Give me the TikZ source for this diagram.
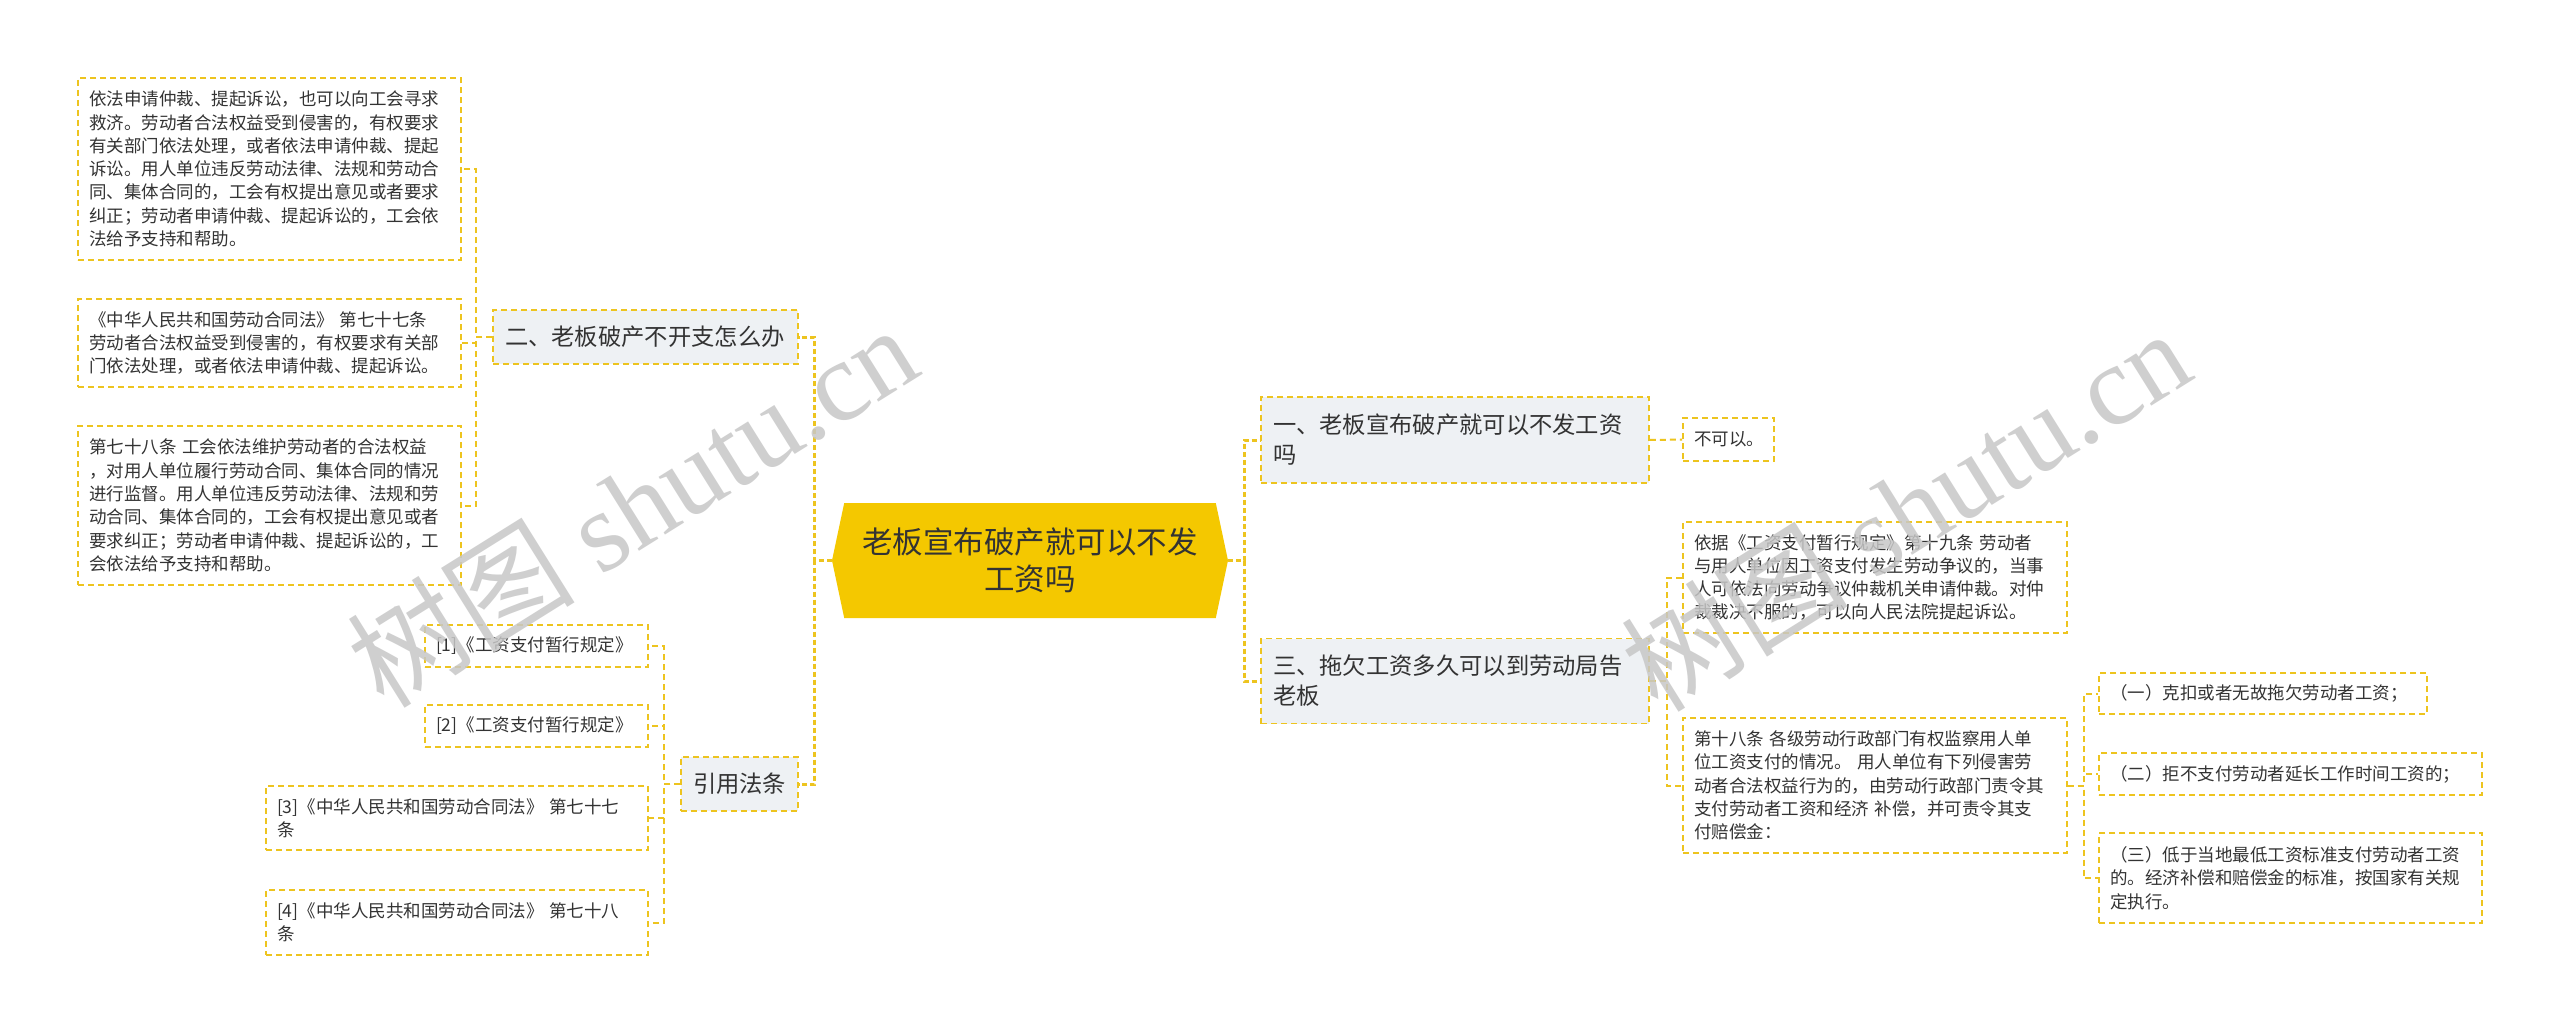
\documentclass[tikz,border=0pt]{standalone}
\usepackage{fontspec}
\setmainfont{Noto Sans CJK SC}
\newfontfamily\stampserif{Liberation Serif}
\usetikzlibrary{shapes.symbols}

\definecolor{hubyellow}{HTML}{F4C800}
\definecolor{dashyellow}{HTML}{EDC41F}
\definecolor{branchgray}{HTML}{EEF1F4}
\definecolor{inkgray}{HTML}{333333}

\newcommand{\leaffont}{\fontsize{17.5}{23.3}\selectfont}
\newcommand{\branchfont}{\fontsize{23.3}{30}\selectfont}
\newcommand{\hubfont}{\fontsize{30.5}{37}\selectfont}

\begin{document}
\begin{tikzpicture}[x=1pt,y=-1pt,
    box/.style={draw=dashyellow, line width=1.8pt, dash pattern=on 6pt off 4pt,
      text=inkgray, inner xsep=11pt, inner ysep=0pt, align=left},
    leaf/.style={box, fill=white, font=\leaffont},
    branch/.style={box, fill=branchgray, font=\branchfont, inner xsep=12pt},
    link/.style={draw=dashyellow, line width=2pt, dash pattern=on 6pt off 4pt},
    trunk/.style={draw=dashyellow, line width=3pt, dash pattern=on 5pt off 3pt},
    hub/.style={signal, signal to=west and east, signal pointer angle=156,
      fill=hubyellow, text=inkgray, font=\hubfont, align=center, inner sep=0pt},
    stamp/.style={text=black!22, text opacity=0.85, font=\fontsize{114}{114}\selectfont,
      inner sep=0pt}]
  \useasboundingbox[fill=white] (0,0) rectangle (2560,1033);

  % centre
  \node[hub, minimum width=396, minimum height=115] (hub) at (1030,560.5)
    {老板宣布破产就可以不发\\工资吗};

  % left side
  \node[branch, text width=281, minimum height=54] (qTwo) at (645.5,337) {二、老板破产不开支怎么办};
  \node[branch, text width=93, minimum height=54] (cite) at (739.5,784) {引用法条};

  \node[leaf, text width=361, minimum height=182] (lawA) at (269.5,169) {依法申请仲裁、提起诉讼，也可以向工会寻求\\救济。劳动者合法权益受到侵害的，有权要求\\有关部门依法处理，或者依法申请仲裁、提起\\诉讼。用人单位违反劳动法律、法规和劳动合\\同、集体合同的，工会有权提出意见或者要求\\纠正；劳动者申请仲裁、提起诉讼的，工会依\\法给予支持和帮助。};
  \node[leaf, text width=361, minimum height=88] (lawB) at (269.5,343) {《中华人民共和国劳动合同法》 第七十七条\\劳动者合法权益受到侵害的，有权要求有关部\\门依法处理，或者依法申请仲裁、提起诉讼。};
  \node[leaf, text width=361, minimum height=159] (lawC) at (269.5,505.5) {第七十八条 工会依法维护劳动者的合法权益\\，对用人单位履行劳动合同、集体合同的情况\\进行监督。用人单位违反劳动法律、法规和劳\\动合同、集体合同的，工会有权提出意见或者\\要求纠正；劳动者申请仲裁、提起诉讼的，工\\会依法给予支持和帮助。};

  \node[leaf, text width=201, minimum height=42] (ref1) at (536.5,646) {[1]《工资支付暂行规定》};
  \node[leaf, text width=201, minimum height=42] (ref2) at (536.5,726) {[2]《工资支付暂行规定》};
  \node[leaf, text width=360, minimum height=64] (ref3) at (457,818) {[3]《中华人民共和国劳动合同法》 第七十七\\条};
  \node[leaf, text width=360, minimum height=65] (ref4) at (457,922.5) {[4]《中华人民共和国劳动合同法》 第七十八\\条};

  % right side
  \node[branch, text width=364, minimum height=86] (qOne) at (1455,440) {一、老板宣布破产就可以不发工资\\吗};
  \node[branch, text width=364, minimum height=85] (qThree) at (1455,681) {三、拖欠工资多久可以到劳动局告\\老板};

  \node[leaf, text width=69, minimum height=43] (answer) at (1728.5,439.5) {不可以。};
  \node[leaf, text width=362, minimum height=111] (rule19) at (1875,577.5) {依据《工资支付暂行规定》第十九条 劳动者\\与用人单位因工资支付发生劳动争议的，当事\\人可依法向劳动争议仲裁机关申请仲裁。对仲\\裁裁决不服的，可以向人民法院提起诉讼。};
  \node[leaf, text width=362, minimum height=135] (rule18) at (1875,785.5) {第十八条 各级劳动行政部门有权监察用人单\\位工资支付的情况。 用人单位有下列侵害劳\\动者合法权益行为的，由劳动行政部门责令其\\支付劳动者工资和经济 补偿，并可责令其支\\付赔偿金：};

  \node[leaf, text width=306, minimum height=41] (caseA) at (2263,693.5) {（一）克扣或者无故拖欠劳动者工资；};
  \node[leaf, text width=361, minimum height=42] (caseB) at (2290.5,774) {（二）拒不支付劳动者延长工作时间工资的；};
  \node[leaf, text width=361, minimum height=90] (caseC) at (2290.5,878) {（三）低于当地最低工资标准支付劳动者工资\\的。经济补偿和赔偿金的标准，按国家有关规\\定执行。};

  % connectors
  \foreach \kid in {qTwo,cite}
    \draw[trunk] (hub.west) -- ++(-17,0) |- (\kid.east);
  \foreach \kid in {qOne,qThree}
    \draw[trunk] (hub.east) -- ++(16,0) |- (\kid.west);
  \foreach \kid in {lawA,lawB,lawC}
    \draw[link] (qTwo.west) -- ++(-16,0) |- (\kid.east);
  \foreach \kid in {ref1,ref2,ref3,ref4}
    \draw[link] (cite.west) -- ++(-16,0) |- (\kid.east);
  \draw[link] (qOne.east) -- (answer.west);
  \foreach \kid in {rule19,rule18}
    \draw[link] (qThree.east) -- ++(17,0) |- (\kid.west);
  \foreach \kid in {caseA,caseB,caseC}
    \draw[link] (rule18.east) -- ++(16,0) |- (\kid.west);

  % watermarks
  \node[stamp, rotate=32] (stampL) at (632,505) {树图 {\stampserif shutu.cn}};
  \node[stamp, rotate=32] (stampR) at (1905,509) {树图 {\stampserif shutu.cn}};
\end{tikzpicture}
\end{document}
